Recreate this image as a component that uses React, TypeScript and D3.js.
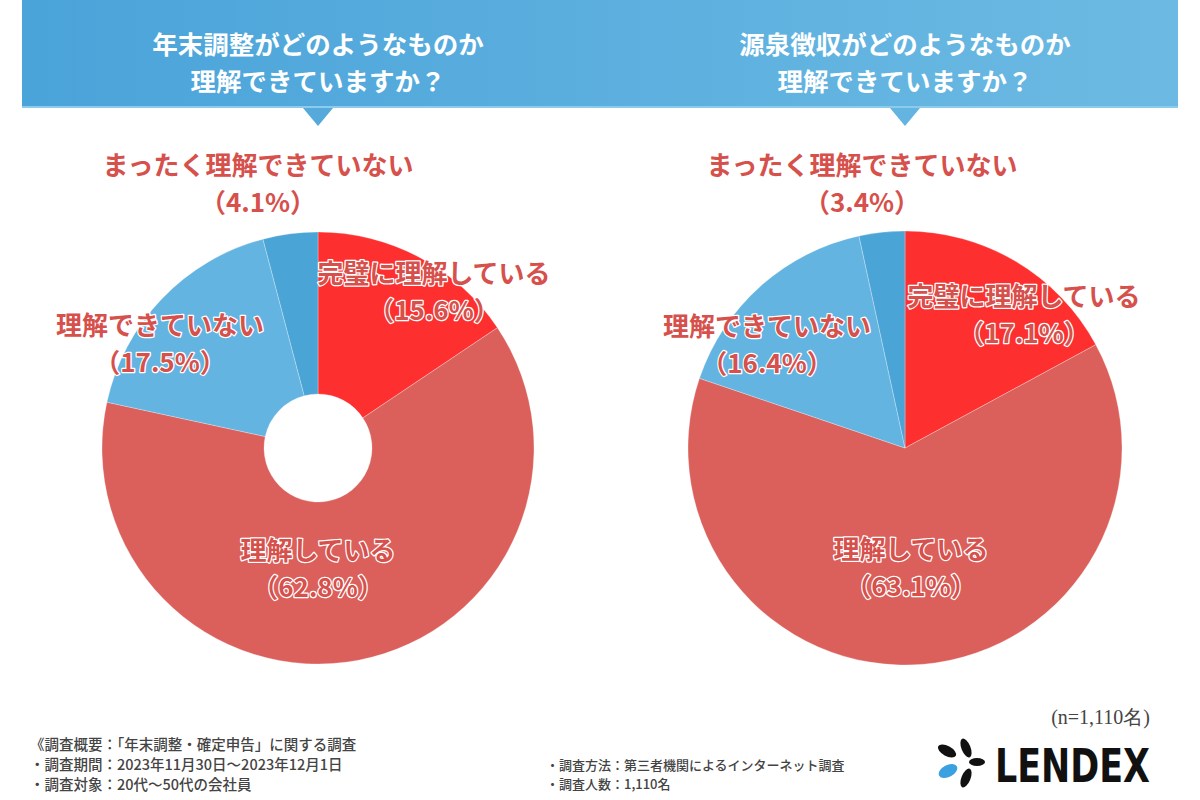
import React from "react";
import * as d3 from "d3";

const categories = ["完璧に理解している", "理解している", "理解できていない", "まったく理解できていない"];
const leftValues = [15.6, 62.8, 17.5, 4.1];
const rightValues = [17.1, 63.1, 16.4, 3.4];
const sliceColors = ["#fd2f2f", "#db5f5b", "#64b4e1", "#4ba4d6"];
const titlesLeft = ["年末調整がどのようなものか", "理解できていますか？"];
const titlesRight = ["源泉徴収がどのようなものか", "理解できていますか？"];
const footLeft = ["《調査概要：「年末調整・確定申告」に関する調査", "・調査期間：2023年11月30日～2023年12月1日", "・調査対象：20代～50代の会社員"];
const footRight = ["・調査方法：第三者機関によるインターネット調査", "・調査人数：1,110名"];

const FONT = "'Noto Sans CJK JP', 'Noto Sans', sans-serif";
const LABEL = "#d6504c";

type LabelPos = { x: number; y: number };

function Pie({ cx, cy, r, inner, values, labels }: { cx: number; cy: number; r: number; inner: number; values: number[]; labels: LabelPos[] }) {
  const pie = d3.pie<number>().sort(null).value((d) => d)(values);
  const arc = d3.arc<d3.PieArcDatum<number>>().innerRadius(inner).outerRadius(r);
  return (
    <g>
      <g transform={`translate(${cx},${cy})`}>
        {pie.map((p, i) => (
          <path key={i} d={arc(p) || ""} fill={sliceColors[i]} stroke="#ffffff" strokeOpacity={0.35} strokeWidth={0.8} />
        ))}
      </g>
      {labels.map((l, i) => (
        <g key={i}>
          {[categories[i], `（${values[i].toFixed(1)}%）`].map((t, k) => (
            <text
              key={k}
              x={l.x}
              y={l.y + k * 37}
              textAnchor="middle"
              fontFamily={FONT}
              fontWeight={700}
              fontSize={26}
              fill={LABEL}
              stroke={i === 3 ? "none" : "#ffffff"}
              strokeWidth={i === 3 ? 0 : 2.5}
              paintOrder="stroke"
              strokeLinejoin="round"
            >
              {t}
            </text>
          ))}
        </g>
      ))}
    </g>
  );
}

export default function App() {
  const W = 1200;
  const H = 800;
  const leftLabels: LabelPos[] = [
    { x: 434, y: 283 },
    { x: 318, y: 560 },
    { x: 160, y: 335 },
    { x: 258, y: 175 },
  ];
  const rightLabels: LabelPos[] = [
    { x: 1024, y: 306 },
    { x: 911, y: 559 },
    { x: 767, y: 336 },
    { x: 862, y: 175 },
  ];
  return (
    <svg width={W} height={H} style={{ position: "absolute", left: 0, top: 0 }}>
      <defs>
        <linearGradient id="hdr" x1="0" x2="1" y1="0" y2="0">
          <stop offset="0" stopColor="#4aa3d9" />
          <stop offset="1" stopColor="#6cbae3" />
        </linearGradient>
      </defs>
      <rect x={0} y={0} width={W} height={H} fill="#ffffff" />
      <rect x={22} y={0} width={1156} height={108} fill="url(#hdr)" />
      <rect x={22} y={106} width={1156} height={2} fill="#8ccbeb" />
      <path d="M303,108 L333,108 L318,126 Z" fill="#55aadb" />
      <path d="M890,108 L920,108 L905,126 Z" fill="#63b4e0" />
      {[titlesLeft, titlesRight].map((tl, j) => {
        const cx = j === 0 ? 318 : 905;
        return tl.map((t, k) => (
          <text key={`${j}-${k}`} x={cx} y={54 + k * 37} textAnchor="middle" fontFamily={FONT} fontWeight={700} fontSize={25.5} fill="#ffffff">
            {t}
          </text>
        ));
      })}
      <Pie cx={318} cy={448} r={216} inner={54} values={leftValues} labels={leftLabels} />
      <Pie cx={905} cy={448} r={217} inner={0} values={rightValues} labels={rightLabels} />
      {footLeft.map((t, i) => (
        <text key={i} x={30} y={750 + i * 20} fontFamily={FONT} fontSize={14.5} fontWeight={500} fill="#444">
          {t}
        </text>
      ))}
      {footRight.map((t, i) => (
        <text key={i} x={546} y={770 + i * 19} fontFamily={FONT} fontSize={13} fontWeight={500} fill="#444">
          {t}
        </text>
      ))}
      <text x={1150} y={724} textAnchor="end" fontFamily="'Liberation Serif', serif" fontSize={20} fill="#444">
        (n=1,110名)
      </text>
      <g transform="translate(963,763)">
        <ellipse cx={-16} cy={-12} rx={10} ry={5} transform="rotate(28 -16 -12)" fill="#111" />
        <ellipse cx={3} cy={-15} rx={4.5} ry={10} transform="rotate(-22 3 -15)" fill="#111" />
        <ellipse cx={14} cy={-1} rx={8} ry={4} fill="#111" />
        <ellipse cx={-15} cy={8} rx={10} ry={6} transform="rotate(-28 -15 8)" fill="#3aa0e0" />
        <ellipse cx={3} cy={15} rx={4.5} ry={10} transform="rotate(22 3 15)" fill="#111" />
      </g>
      <text x={995} y={782} fontFamily="'Liberation Sans Narrow', 'DejaVu Sans Condensed', sans-serif" fontWeight={700} fontSize={47} textLength={155} lengthAdjust="spacingAndGlyphs" fill="#111">
        LENDEX
      </text>
    </svg>
  );
}
